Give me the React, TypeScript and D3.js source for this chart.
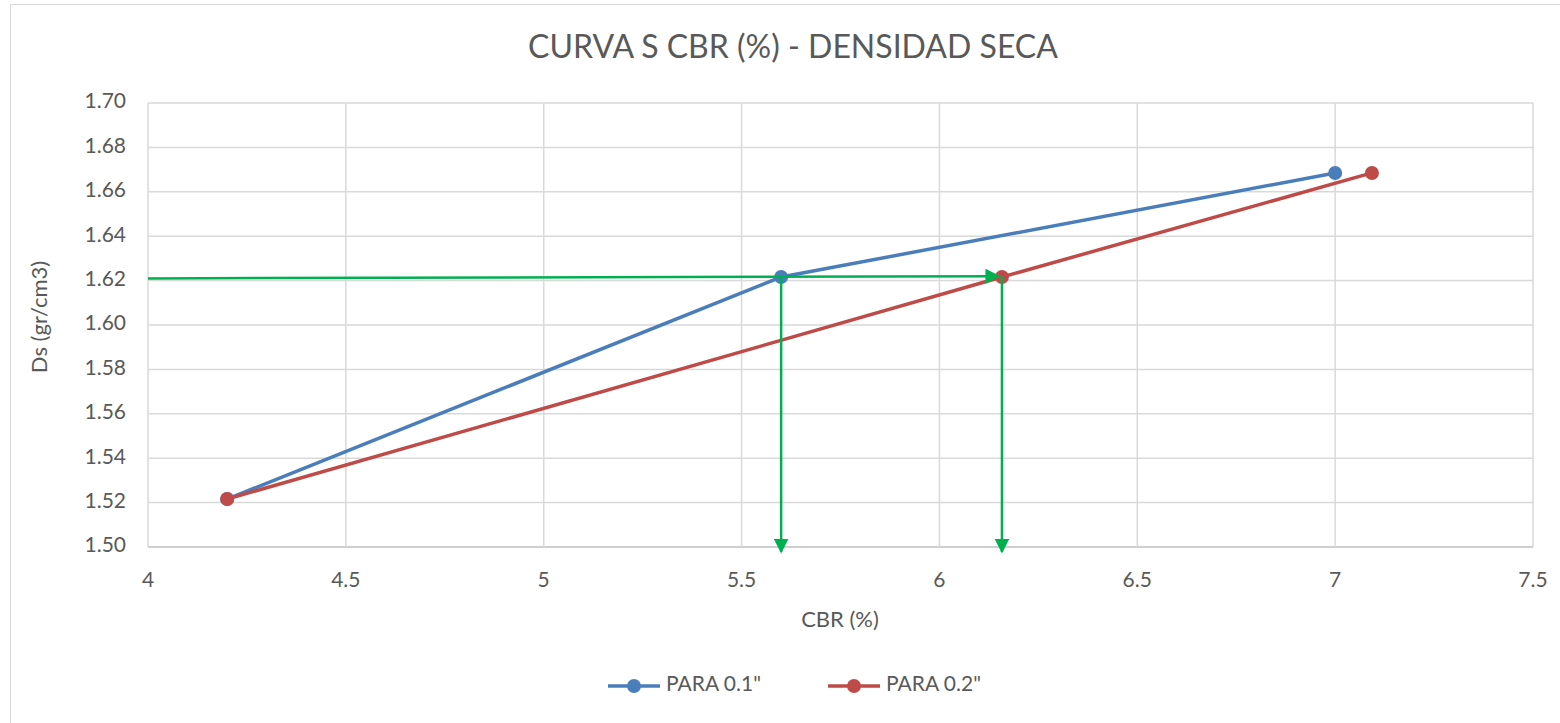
import React from 'react';
import * as d3 from 'd3';

// datos
const cbr01 = [4.2, 5.6, 7.0];
const cbr02 = [4.2, 6.158, 7.093];
const densidad = [1.5216, 1.6216, 1.6685];
const xTicks = [4, 4.5, 5, 5.5, 6, 6.5, 7, 7.5];
const yTicks = [1.5, 1.52, 1.54, 1.56, 1.58, 1.6, 1.62, 1.64, 1.66, 1.68, 1.7];
const guiaDs = [1.621, 1.622]; // linea verde horizontal (inicio, fin)
const guiaCbr = [5.6, 6.158]; // flechas verdes verticales

const W = 1560;
const H = 723;
const FONT = 'Lato, "Open Sans", sans-serif';
const GRIS = '#595959';
const AZUL = '#4a7ebb';
const ROJO = '#be4b48';
const VERDE = '#00b050';

const App = () => {
  const x = d3.scaleLinear().domain([4, 7.5]).range([148, 1533]);
  const y = d3.scaleLinear().domain([1.5, 1.7]).range([547, 103]);

  const linea = d3
    .line<[number, number]>()
    .x((d) => x(d[0]))
    .y((d) => y(d[1]));

  const serie1 = cbr01.map((c, i) => [c, densidad[i]] as [number, number]);
  const serie2 = cbr02.map((c, i) => [c, densidad[i]] as [number, number]);

  return (
    <svg
      width={W}
      height={H}
      style={{ position: 'absolute', left: 0, top: 0, background: '#fff' }}
      fontFamily={FONT}
    >
      <defs>
        <marker id='flecha' viewBox='0 0 10 10' refX='9' refY='5' markerWidth='6' markerHeight='6' markerUnits='strokeWidth' orient='auto'>
          <path d='M0,0 L10,5 L0,10 z' fill={VERDE} />
        </marker>
      </defs>
      <rect x={10.5} y={4.5} width={1600} height={800} fill='#fff' stroke='#d9d9d9' />

      {/* titulo */}
      <text x={793} y={50} textAnchor='middle' dominantBaseline='middle' fontSize={32} fill={GRIS}>
        CURVA S CBR (%) - DENSIDAD SECA
      </text>

      {/* rejilla */}
      {yTicks.map((t) => (
        <line key={'gy' + t} x1={148} x2={1533} y1={y(t)} y2={y(t)} stroke={t === 1.5 ? '#bfbfbf' : '#d9d9d9'} strokeWidth={1.5} />
      ))}
      {xTicks.map((t) => (
        <line key={'gx' + t} x1={x(t)} x2={x(t)} y1={103} y2={547} stroke='#d9d9d9' strokeWidth={1.5} />
      ))}

      {/* etiquetas de ejes */}
      {yTicks.map((t) => (
        <text key={'ly' + t} x={126} y={y(t)} textAnchor='end' dominantBaseline='middle' fontSize={21} fill={GRIS}>
          {d3.format('.2f')(t)}
        </text>
      ))}
      {xTicks.map((t) => (
        <text key={'lx' + t} x={x(t)} y={582} textAnchor='middle' dominantBaseline='middle' fontSize={21} fill={GRIS}>
          {t}
        </text>
      ))}
      <text x={840} y={621} textAnchor='middle' dominantBaseline='middle' fontSize={22} fill={GRIS}>
        CBR (%)
      </text>
      <text
        transform={`translate(41, ${317}) rotate(-90)`}
        textAnchor='middle'
        dominantBaseline='middle'
        fontSize={22}
        fill={GRIS}
      >
        Ds (gr/cm3)
      </text>

      {/* series */}
      <path d={linea(serie1) ?? ''} fill='none' stroke={AZUL} strokeWidth={3.5} />
      <path d={linea(serie2) ?? ''} fill='none' stroke={ROJO} strokeWidth={3.5} />
      {serie1.map((d, i) => (
        <circle key={'p1' + i} cx={x(d[0])} cy={y(d[1])} r={7} fill={AZUL} />
      ))}
      {serie2.map((d, i) => (
        <circle key={'p2' + i} cx={x(d[0])} cy={y(d[1])} r={7} fill={ROJO} />
      ))}

      {/* guias verdes */}
      <line x1={x(4)} y1={y(guiaDs[0])} x2={x(guiaCbr[1]) - 3} y2={y(guiaDs[1])} stroke={VERDE} strokeWidth={2.5} markerEnd='url(#flecha)' />
      {guiaCbr.map((c) => (
        <line key={'v' + c} x1={x(c)} y1={y(guiaDs[1])} x2={x(c)} y2={y(1.5) + 5} stroke={VERDE} strokeWidth={2.5} markerEnd='url(#flecha)' />
      ))}

      {/* leyenda */}
      {[
        { nombre: 'PARA 0.1"', color: AZUL, x0: 608 },
        { nombre: 'PARA 0.2"', color: ROJO, x0: 828 },
      ].map((s) => (
        <g key={s.nombre}>
          <line x1={s.x0} x2={s.x0 + 52} y1={686} y2={686} stroke={s.color} strokeWidth={3.5} />
          <circle cx={s.x0 + 26} cy={686} r={7} fill={s.color} />
          <text x={s.x0 + 58} y={686} dominantBaseline='middle' fontSize={21} fill={GRIS}>
            {s.nombre}
          </text>
        </g>
      ))}
    </svg>
  );
};

export default App;
